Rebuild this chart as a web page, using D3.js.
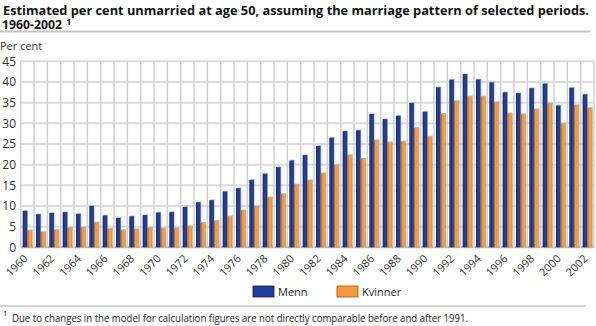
<!DOCTYPE html>
<html>
<head>
<meta charset="utf-8">
<script src="https://cdn.jsdelivr.net/npm/d3@7"></script>
<style>
  body { margin: 0; background: #fff; }
  svg { display: block; font-family: 'Open Sans', sans-serif; }
</style>
</head>
<body>
<script>
const width = 596;
const height = 326;

// years 1960-2002
const years = d3.range(1960, 2003);
const menn = [8.8, 8.0, 8.3, 8.5, 8.1, 10.0, 7.7, 7.1, 7.5, 7.8, 8.4, 8.5, 9.75, 10.9, 11.4,
  13.5, 14.3, 16.3, 17.8, 19.4, 21.0, 22.3, 24.5, 26.5, 28.1, 28.3, 32.25, 31.0, 31.8, 34.9,
  32.8, 38.7, 40.55, 41.9, 40.6, 39.9, 37.5, 37.3, 38.5, 39.6, 34.3, 38.6, 37.0];
const kvinner = [4.1, 3.7, 4.2, 4.7, 4.8, 6.0, 4.5, 4.2, 4.4, 4.7, 4.6, 4.6, 5.1, 5.9, 6.4,
  7.5, 8.95, 9.9, 12.1, 12.9, 15.2, 16.2, 17.9, 19.9, 22.3, 21.4, 25.9, 25.4, 25.6, 28.9,
  26.8, 32.3, 35.4, 36.5, 36.5, 35.1, 32.4, 32.2, 33.4, 34.8, 29.9, 34.4, 33.7];
const seriesNames = ['Menn', 'Kvinner'];
const yTicks = [0, 5, 10, 15, 20, 25, 30, 35, 40, 45];

const plot = { left: 20.7, right: 594, top: 61.3, bottom: 247.3 };

const svg = d3
  .select('body')
  .append('svg')
  .attr('width', width)
  .attr('height', height);

const defs = svg.append('defs');
const grads = [
  { id: 'gradMenn', dark: '#0c1b56', main: '#203d98' },
  { id: 'gradKvinner', dark: '#9a5512', main: '#f7983a' }
];
grads.forEach((g) => {
  const lg = defs.append('linearGradient').attr('id', g.id)
    .attr('x1', 0).attr('x2', 1).attr('y1', 0).attr('y2', 0);
  lg.append('stop').attr('offset', '0%').attr('stop-color', g.dark);
  lg.append('stop').attr('offset', '30%').attr('stop-color', g.main);
  lg.append('stop').attr('offset', '100%').attr('stop-color', g.main);
});

const x = d3.scaleBand().domain(years).range([plot.left, plot.right]).padding(0);
const xs = d3.scaleBand().domain(seriesNames).range([2, x.bandwidth() - 2]).paddingInner(0.06);
const y = d3.scaleLinear().domain([0, 45]).range([plot.bottom, plot.top]);

// title
const title = svg.append('g').attr('font-weight', 'bold').attr('fill', '#111').attr('font-size', 13);
title.append('text').attr('x', 3).attr('y', 14.5)
  .attr('textLength', 586).attr('lengthAdjust', 'spacingAndGlyphs')
  .text('Estimated per cent unmarried at age 50, assuming the marriage pattern of selected periods.');
title.append('text').attr('x', 2).attr('y', 28.5)
  .attr('textLength', 60).attr('lengthAdjust', 'spacingAndGlyphs')
  .text('1960-2002');
title.append('text').attr('x', 66).attr('y', 25).attr('font-size', 9.5).text('1');

svg.append('line').attr('x1', 0).attr('x2', 590).attr('y1', 31.5).attr('y2', 31.5)
  .attr('stroke', '#c4c4c4').attr('stroke-width', 2);

svg.append('text').attr('x', 0).attr('y', 50).attr('font-size', 11).attr('fill', '#333').text('Per cent');

// grid
const grid = svg.append('g');
grid.selectAll('.hgrid').data(yTicks).enter().append('line')
  .attr('x1', plot.left).attr('x2', plot.right)
  .attr('y1', (d) => y(d)).attr('y2', (d) => y(d))
  .attr('stroke', (d) => (d === 0 ? '#b5b5b5' : '#dcdcdc')).attr('stroke-width', 2);
grid.selectAll('.vgrid').data(years.concat(['end'])).enter().append('line')
  .attr('x1', (d) => (d === 'end' ? plot.right : x(d)))
  .attr('x2', (d) => (d === 'end' ? plot.right : x(d)))
  .attr('y1', plot.top).attr('y2', plot.bottom)
  .attr('stroke', '#cfcfcf').attr('stroke-width', 1.5);

// y axis labels
const yAxis = svg.append('g').attr('transform', 'translate(16,0)')
  .call(d3.axisLeft(y).tickValues(yTicks).tickSize(0).tickPadding(0));
yAxis.select('.domain').remove();
yAxis.selectAll('text').attr('font-size', 12).attr('fill', '#333')
  .attr('font-family', "'Open Sans', sans-serif");

// x axis labels, every other year
const xAxis = svg.append('g').attr('transform', `translate(0,${plot.bottom})`)
  .call(d3.axisBottom(x).tickValues(years.filter((d) => d % 2 === 0)).tickSize(0).tickPadding(0));
xAxis.select('.domain').remove();
xAxis.selectAll('text')
  .attr('font-size', 11).attr('fill', '#333')
  .attr('font-family', "'Open Sans', sans-serif")
  .attr('text-anchor', 'end')
  .attr('dy', null)
  .attr('transform', 'translate(1,12) rotate(-45)');

// bars
const rows = years.map((yr, i) => ({ year: yr, values: [
  { key: 'Menn', value: menn[i] }, { key: 'Kvinner', value: kvinner[i] }] }));

const groups = svg.append('g').selectAll('.year').data(rows).enter().append('g')
  .attr('transform', (d) => `translate(${x(d.year)},0)`);

const bars = groups.selectAll('.bar').data((d) => d.values).enter().append('g');
bars.append('rect')
  .attr('x', (d) => xs(d.key) + 0.8)
  .attr('y', (d) => y(d.value) - 0.8)
  .attr('width', xs.bandwidth())
  .attr('height', (d) => plot.bottom - y(d.value))
  .attr('fill', '#8a8a8a').attr('opacity', 0.6);
bars.append('rect')
  .attr('x', (d) => xs(d.key))
  .attr('y', (d) => y(d.value))
  .attr('width', xs.bandwidth())
  .attr('height', (d) => plot.bottom - y(d.value))
  .attr('fill', (d) => `url(#grad${d.key})`);

// legend
const legend = svg.append('g').attr('font-size', 11).attr('fill', '#222');
const legendItems = [
  { key: 'Menn', x: 253, fill: '#203d98', stroke: '#0c1b56' },
  { key: 'Kvinner', x: 337, fill: '#f7983a', stroke: '#9a5512' }
];
legendItems.forEach((l) => {
  legend.append('rect').attr('x', l.x).attr('y', 286).attr('width', 21).attr('height', 11)
    .attr('fill', l.fill).attr('stroke', l.stroke).attr('stroke-width', 0.8);
  legend.append('text').attr('x', l.x + 25).attr('y', 296).text(l.key);
});

svg.append('line').attr('x1', 0).attr('x2', 586).attr('y1', 306).attr('y2', 306)
  .attr('stroke', '#c4c4c4').attr('stroke-width', 1.5);

// footnote
const foot = svg.append('g').attr('fill', '#222');
foot.append('text').attr('x', 3).attr('y', 316).attr('font-size', 8).text('1');
foot.append('text').attr('x', 12).attr('y', 322).attr('font-size', 10)
  .attr('textLength', 456).attr('lengthAdjust', 'spacingAndGlyphs')
  .text('Due to changes in the model for calculation figures are not directly comparable before and after 1991.');
</script>
</body>
</html>
